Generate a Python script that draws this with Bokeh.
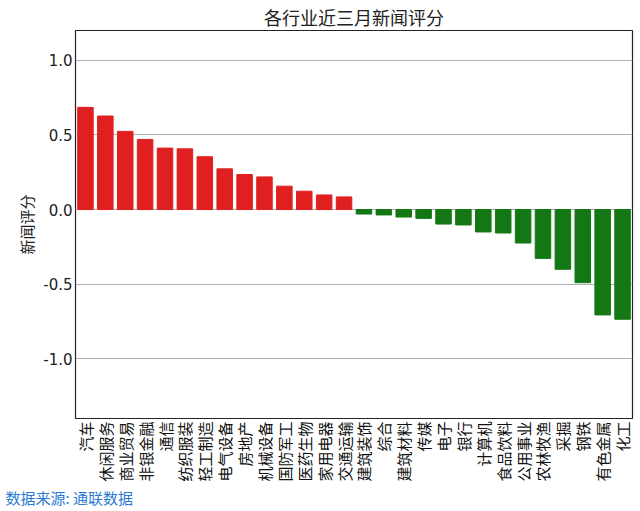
import math
from bokeh.plotting import figure
from bokeh.models import ColumnDataSource, Title, FixedTicker, Range1d, NumeralTickFormatter
from bokeh.embed import file_html
from bokeh.resources import INLINE

industries = ["汽车", "休闲服务", "商业贸易", "非银金融", "通信", "纺织服装", "轻工制造",
              "电气设备", "房地产", "机械设备", "国防军工", "医药生物", "家用电器", "交通运输",
              "建筑装饰", "综合", "建筑材料", "传媒", "电子", "银行", "计算机", "食品饮料",
              "公用事业", "农林牧渔", "采掘", "钢铁", "有色金属", "化工"]
scores = [0.685, 0.627, 0.524, 0.470, 0.412, 0.407, 0.354, 0.273, 0.235, 0.219, 0.157,
          0.123, 0.098, 0.085, -0.030, -0.036, -0.050, -0.059, -0.097, -0.103, -0.150,
          -0.157, -0.224, -0.327, -0.400, -0.490, -0.706, -0.735]
y_ticks = [-1.0, -0.5, 0.0, 0.5, 1.0]

colors = ["#e02020" if v >= 0 else "#137813" for v in scores]
src = ColumnDataSource(dict(x=industries, top=scores, color=colors))

CJK = "Noto Sans CJK SC"

p = figure(x_range=industries, y_range=Range1d(-1.4, 1.2),
           frame_width=557, frame_height=388,
           output_backend="svg", toolbar_location=None,
           min_border_left=75, min_border_right=8, min_border_top=29, min_border_bottom=10)

p.vbar(x="x", top="top", bottom=0, width=0.78, color="color", source=src)

p.title.text = "各行业近三月新闻评分"
p.title.align = "center"
p.title.text_font = CJK
p.title.text_font_size = "18px"
p.title.text_font_style = "normal"
p.title.text_color = "#222222"
p.title.standoff = 2

p.outline_line_color = "#222222"
p.outline_line_width = 1.2

p.xgrid.grid_line_color = None
p.ygrid.grid_line_color = "#b0b0b0"
p.ygrid.grid_line_width = 1.2

p.yaxis.ticker = FixedTicker(ticks=y_ticks)
p.yaxis.formatter = NumeralTickFormatter(format="0.0")
p.yaxis.axis_label = "新闻评分"
p.yaxis.axis_label_text_font = CJK
p.yaxis.axis_label_text_font_size = "15px"
p.yaxis.axis_label_text_font_style = "normal"
p.yaxis.axis_label_text_color = "#222222"
p.yaxis.axis_label_standoff = 3
p.yaxis.major_label_text_font = "DejaVu Sans"
p.yaxis.major_label_text_font_size = "15px"
p.yaxis.major_label_text_color = "#222222"
p.yaxis.major_label_standoff = 3

p.xaxis.major_label_orientation = math.pi / 2
p.xaxis.major_label_text_font = CJK
p.xaxis.major_label_text_font_size = "15px"
p.xaxis.major_label_text_color = "#111111"
p.xaxis.major_label_standoff = 3

for ax in (p.xaxis, p.yaxis):
    ax.axis_line_color = None
    ax.major_tick_line_color = None
    ax.minor_tick_line_color = None
    ax.major_tick_out = 0
    ax.major_tick_in = 0
    ax.minor_tick_out = 0

p.x_range.range_padding = 0

footer = Title(text="数据来源: 通联数据", align="left", text_font=CJK,
               text_font_size="15px", text_font_style="normal", text_color="#2a7ad2",
               offset=-70, standoff=0)
p.add_layout(footer, "below")

open("out.html", "w").write(file_html(p, INLINE))
